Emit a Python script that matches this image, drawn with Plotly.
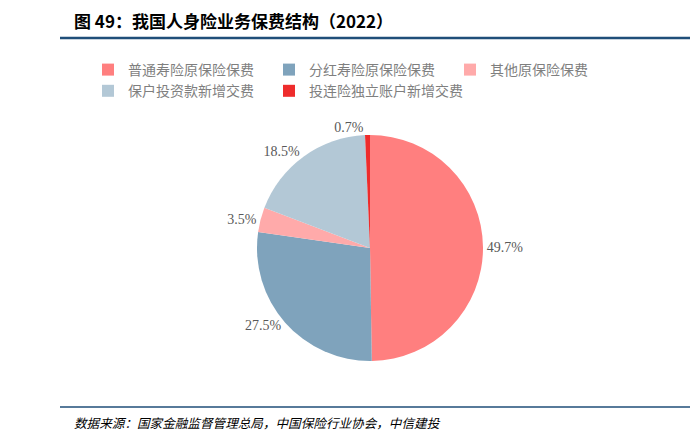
import plotly.graph_objects as go

labels = ["普通寿险原保险保费", "分红寿险原保险保费", "其他原保险保费",
          "保户投资款新增交费", "投连险独立账户新增交费"]
shares = [49.7, 27.5, 3.5, 18.5, 0.7]
share_text = ["49.7%", "27.5%", "3.5%", "18.5%", "0.7%"]
colors = ["#FF7F7F", "#7FA3BC", "#FFAAAA", "#B3C8D6", "#EE2C2C"]

# page has an 8px body margin, so the figure is drawn 8px in from the window
OFF = 8
W, H = 700 - OFF, 444 - OFF
font_cjk = "Noto Sans CJK SC"


def px(x):
    return (x - OFF) / W


def py(y):
    return 1 - (y - OFF) / H


fig = go.Figure()
fig.add_trace(go.Pie(
    labels=labels,
    values=shares,
    text=share_text,
    textinfo="text",
    textposition="outside",
    textfont=dict(size=14, color="#595959", family="Liberation Serif, " + font_cjk),
    marker=dict(colors=colors, line=dict(color="#ffffff", width=0)),
    sort=False,
    direction="clockwise",
    rotation=0,
    hole=0,
    domain=dict(x=[px(257), px(483)], y=[py(361), py(135)]),
    automargin=False,
))

fig.update_layout(
    width=W, height=H,
    margin=dict(l=0, r=0, t=0, b=0),
    paper_bgcolor="#ffffff",
    plot_bgcolor="#ffffff",
    showlegend=True,
    legend=dict(
        orientation="h",
        x=px(88), xanchor="left",
        y=py(54), yanchor="top",
        entrywidth=136, entrywidthmode="pixels",
        font=dict(size=14, color="#7F7F7F", family=font_cjk),
        itemwidth=30,
    ),
    font=dict(family=font_cjk),
)

# title and source
fig.add_annotation(
    text="<b>图 49：我国人身险业务保费结构（2022）</b>",
    xref="paper", yref="paper", x=px(72), y=py(20),
    xanchor="left", yanchor="middle", showarrow=False,
    font=dict(size=17, color="#000000", family=font_cjk),
)
fig.add_annotation(
    text="<i>数据来源：国家金融监督管理总局，中国保险行业协会，中信建投</i>",
    xref="paper", yref="paper", x=px(72), y=py(422),
    xanchor="left", yanchor="middle", showarrow=False,
    font=dict(size=12.6, color="#000000", family=font_cjk),
)
fig.add_shape(type="line", xref="paper", yref="paper",
              x0=px(60), x1=px(690), y0=py(38), y1=py(38),
              line=dict(color="#1F4E79", width=2.5))
fig.add_shape(type="line", xref="paper", yref="paper",
              x0=px(60), x1=px(690), y0=py(407), y1=py(407),
              line=dict(color="#1F4E79", width=1.5))

fig.write_html("out.html")
